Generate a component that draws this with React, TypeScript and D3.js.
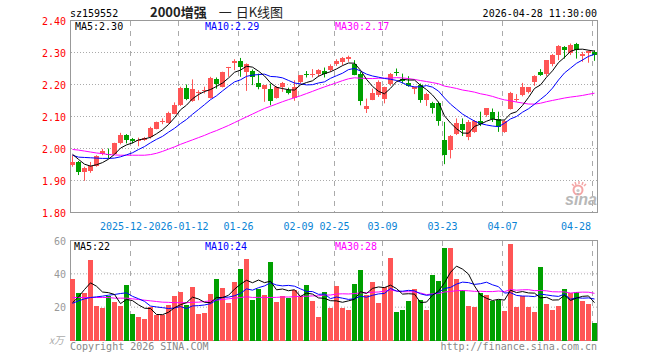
import React from "react";
import * as d3 from "d3";

const opens = [1.948,1.958,1.927,1.930,1.945,1.982,1.984,1.984,2.018,2.042,2.029,2.023,2.027,2.036,2.062,2.083,2.080,2.109,2.135,2.190,2.148,2.175,2.180,2.158,2.217,2.193,2.253,2.266,2.274,2.240,2.242,2.205,2.185,2.185,2.158,2.193,2.184,2.159,2.208,2.233,2.230,2.234,2.242,2.245,2.263,2.271,2.279,2.263,2.232,2.122,2.153,2.167,2.154,2.200,2.238,2.216,2.205,2.187,2.198,2.151,2.143,2.141,2.028,1.995,2.045,2.078,2.036,2.052,2.085,2.104,2.115,2.091,2.052,2.122,2.151,2.167,2.177,2.208,2.240,2.232,2.264,2.292,2.316,2.297,2.326,2.290,2.300,2.302];
const highs = [1.979,1.961,1.943,1.958,1.979,1.999,2.000,2.018,2.049,2.045,2.033,2.034,2.036,2.068,2.084,2.094,2.115,2.144,2.193,2.200,2.216,2.182,2.193,2.224,2.222,2.240,2.255,2.279,2.283,2.266,2.247,2.234,2.198,2.203,2.195,2.208,2.190,2.213,2.229,2.242,2.248,2.248,2.253,2.263,2.279,2.286,2.290,2.276,2.240,2.156,2.187,2.213,2.193,2.236,2.250,2.234,2.226,2.193,2.203,2.174,2.146,2.146,2.083,2.042,2.094,2.094,2.089,2.089,2.115,2.125,2.125,2.115,2.089,2.177,2.170,2.205,2.191,2.229,2.248,2.276,2.295,2.323,2.320,2.328,2.330,2.302,2.307,2.307];
const lows = [1.943,1.917,1.899,1.924,1.943,1.979,1.969,1.982,2.013,2.016,2.016,2.007,2.024,2.031,2.060,2.076,2.078,2.107,2.133,2.151,2.146,2.151,2.172,2.156,2.187,2.191,2.224,2.245,2.224,2.180,2.198,2.185,2.146,2.135,2.156,2.177,2.169,2.149,2.203,2.222,2.222,2.224,2.222,2.240,2.258,2.260,2.271,2.229,2.135,2.111,2.151,2.161,2.141,2.196,2.227,2.203,2.193,2.170,2.143,2.133,2.109,2.071,1.951,1.969,2.042,2.039,2.026,2.049,2.070,2.099,2.083,2.052,2.049,2.122,2.146,2.163,2.172,2.196,2.227,2.226,2.257,2.276,2.281,2.292,2.281,2.271,2.268,2.274];
const closes = [1.958,1.927,1.940,1.945,1.976,1.992,1.980,2.016,2.042,2.026,2.023,2.028,2.032,2.065,2.082,2.085,2.111,2.137,2.190,2.154,2.185,2.177,2.184,2.221,2.203,2.238,2.255,2.274,2.255,2.263,2.224,2.193,2.198,2.148,2.193,2.205,2.174,2.193,2.229,2.230,2.232,2.245,2.234,2.258,2.274,2.284,2.286,2.231,2.148,2.132,2.174,2.208,2.193,2.234,2.236,2.211,2.196,2.193,2.151,2.170,2.125,2.085,1.979,2.040,2.080,2.057,2.083,2.085,2.076,2.125,2.092,2.066,2.086,2.174,2.156,2.191,2.191,2.226,2.229,2.276,2.292,2.320,2.307,2.323,2.307,2.295,2.304,2.292];
const volumes = [36.8,28.6,28.6,48.1,20.7,19.5,26.6,23.2,20.7,33.2,15.9,14.1,12.9,19.9,15.3,15.3,21.3,26.6,29.0,21.1,32.0,15.9,16.7,27.8,36.8,31.6,22.7,35.0,42.7,48.7,24.2,30.8,27.2,46.9,23.0,26.6,25.6,30.2,26.6,33.2,23.6,14.1,29.0,19.5,32.6,19.5,18.3,33.8,42.1,27.2,35.0,22.5,32.0,49.3,17.1,18.3,23.6,30.8,24.2,18.3,39.1,35.6,55.8,55.8,36.8,30.2,20.7,20.1,28.4,27.2,23.6,24.2,17.7,58.2,20.1,26.6,20.1,17.1,43.9,21.9,18.3,20.7,30.8,28.4,29.0,23.6,21.9,10.5];

const ma5Head = [1.982,1.966,1.951,1.945];
const ma10Head = [1.979,1.973,1.972,1.971,1.970,1.969,1.969,1.970,1.974];
const ma30Head = [1.997,1.995,1.992,1.989,1.986,1.984,1.981,1.980,1.979,1.979,1.979,1.979,1.979,1.981,1.985,1.991,1.998,2.005,2.013,2.020,2.027,2.034,2.041,2.049,2.056,2.064,2.072,2.081,2.090];
const volMa5Head = [22.7,26.2,30.6,34.6];
const volMa10Head = [22.3,23.8,25.0,25.8,26.2,26.6,27.2,27.6,28.2];
const volMa30Head = [25.8,25.8,25.8,25.8,25.8,25.8,25.8,25.4,25.4,25.4,25.0,24.6,24.2,23.8,23.4,23.0,22.9,22.7,22.7,22.7,22.9,23.0,23.4,23.8,24.2,24.6,25.0,25.4,25.8];

const tickIndex = [10,18,28,38,44,52,62,72,87];
const tickLabels = ["2025-12-","2026-01-12","01-26","02-09","02-25","03-09","03-23","04-07","04-28"];
const priceTicks = [2.4,2.3,2.2,2.1,2.0,1.9,1.8];
const volTicks = [60,40,20];

const RED = "#ff5555";
const GREEN = "#00a000";
const MONO = "'DejaVu Sans Mono', 'Liberation Mono', monospace";

function movingAverage(values: number[], n: number, head: number[]): number[] {
  return values.map((_, i) => (i < n - 1 ? head[i] : (d3.mean(values.slice(i - n + 1, i + 1)) as number)));
}

export default function App() {
  const n = closes.length;
  const x = d3.scaleBand<number>().domain(d3.range(n)).range([70, 598]).padding(0);
  const y = d3.scaleLinear().domain([1.8, 2.4]).range([212.5, 20.5]);
  const yv = d3.scaleLinear().domain([0, 60]).range([340.5, 240.5]);

  const ma5 = movingAverage(closes, 5, ma5Head);
  const ma10 = movingAverage(closes, 10, ma10Head);
  const ma30 = movingAverage(closes, 30, ma30Head);
  const vma5 = movingAverage(volumes, 5, volMa5Head);
  const vma10 = movingAverage(volumes, 10, volMa10Head);
  const vma30 = movingAverage(volumes, 30, volMa30Head);

  const cx = (i: number) => (x(i) as number) + 2.5;
  const priceLine = (arr: number[]) =>
    d3.line<number>().x((_, i) => cx(i)).y((d) => y(d))(arr) || "";
  const volLine = (arr: number[]) =>
    d3.line<number>().x((_, i) => cx(i)).y((d) => yv(d))(arr) || "";

  const grid = "#aaaaaa";
  const frame = "#999999";

  return (
    <svg width={660} height={360} style={{ position: "absolute", left: 0, top: 0, background: "#fff" }}
      fontFamily={MONO} fontSize={10}>
      <rect x={0} y={0} width={660} height={360} fill="#fff" />

      {/* header */}
      <text x={70} y={17} fill="#000">sz159552</text>
      <text x={150} y={17} fontFamily="'Noto Sans CJK SC', sans-serif" fontSize={13} fill="#222">
        <tspan fontWeight="bold">2000增强</tspan>
        <tspan dx={12}>一</tspan>
        <tspan dx={4}>日K线图</tspan>
      </text>
      <text x={597} y={17} textAnchor="end" fill="#000">2026-04-28 11:30:00</text>

      {/* main panel grid */}
      {priceTicks.slice(1, -1).map((p) => (
        <line key={"h" + p} x1={71} x2={597} y1={y(p)} y2={y(p)} stroke={grid} strokeDasharray="1,2" />
      ))}
      {tickIndex.map((i) => (
        <line key={"v" + i} x1={(x(i) as number) + 0.5} x2={(x(i) as number) + 0.5} y1={21} y2={212}
          stroke={grid} strokeDasharray="5,5" />
      ))}
      <rect x={70.5} y={20.5} width={527} height={192} fill="none" stroke={frame} />

      {/* price labels */}
      {priceTicks.map((p) => (
        <text key={"pl" + p} x={66} y={y(p) + 4} textAnchor="end" fill="#ff0000">{p.toFixed(2)}</text>
      ))}

      {/* sina watermark */}
      <g>
        <circle cx={578} cy={190} r={4.5} fill="none" stroke="#f4a6a6" strokeWidth={2} />
        <circle cx={578} cy={190.5} r={1.6} fill="#c8c8c8" />
        <path d="M572,184 L574,186 M575,182 L576,185 M579,181 L579,184 M583,182 L582,185 M586,184 L584,186"
          stroke="#f4a6a6" strokeWidth={1.5} fill="none" />
        <text x={565} y={205} fontFamily="'Liberation Sans', Arial, sans-serif" fontSize={16}
          fontWeight="bold" fontStyle="italic" fill="#b8b8b8">sina</text>
      </g>

      {/* candles */}
      {closes.map((c, i) => {
        const o = opens[i];
        const up = c >= o;
        const col = up ? RED : GREEN;
        const top = Math.round(y(Math.max(o, c)));
        const bot = Math.round(y(Math.min(o, c)));
        return (
          <g key={"c" + i}>
            <line x1={cx(i)} x2={cx(i)} y1={y(highs[i])} y2={y(lows[i])} stroke={col} strokeWidth={1} />
            <rect x={x(i) as number} y={top} width={5} height={Math.max(1, bot - top)} fill={col} />
          </g>
        );
      })}

      {/* price MAs */}
      <path d={priceLine(ma30)} fill="none" stroke="#ff00ff" strokeWidth={1} />
      <path d={priceLine(ma10)} fill="none" stroke="#0000ff" strokeWidth={1} />
      <path d={priceLine(ma5)} fill="none" stroke="#000000" strokeWidth={1} />

      <text x={75} y={30} fill="#000">MA5:2.30</text>
      <text x={205} y={30} fill="#0000ff">MA10:2.29</text>
      <text x={335} y={30} fill="#ff00ff">MA30:2.17</text>

      {/* date axis labels */}
      {tickIndex.map((i, k) => {
        const first = k === 0;
        const last = k === tickIndex.length - 1;
        const px = (x(i) as number) + 0.5;
        return (
          <text key={"d" + i} x={first ? 100 : last ? 591 : px} y={230}
            textAnchor={first ? "start" : last ? "end" : "middle"} fill="#0a84d6">
            {tickLabels[k]}
          </text>
        );
      })}

      {/* volume panel */}
      {volTicks.slice(1).map((v) => (
        <line key={"vh" + v} x1={71} x2={597} y1={yv(v)} y2={yv(v)} stroke={grid} strokeDasharray="1,2" />
      ))}
      {tickIndex.map((i) => (
        <line key={"vv" + i} x1={(x(i) as number) + 0.5} x2={(x(i) as number) + 0.5} y1={241} y2={340}
          stroke={grid} strokeDasharray="5,5" />
      ))}
      <rect x={70.5} y={240.5} width={527} height={100} fill="none" stroke={frame} />
      {volTicks.map((v) => (
        <text key={"vl" + v} x={66} y={yv(v) + 4} textAnchor="end" fill="#999">{v}</text>
      ))}
      <text x={64} y={344} textAnchor="end" fill="#aaa" fontStyle="italic"
        fontFamily="'Noto Sans CJK SC', sans-serif" fontSize={10}>x万</text>

      {volumes.map((v, i) => {
        const up = closes[i] >= opens[i];
        const top = Math.round(yv(v));
        return (
          <rect key={"vb" + i} x={x(i) as number} y={top} width={5} height={Math.round(yv(0)) - top}
            fill={up ? RED : GREEN} />
        );
      })}

      <path d={volLine(vma30)} fill="none" stroke="#ff00ff" strokeWidth={1} />
      <path d={volLine(vma10)} fill="none" stroke="#0000ff" strokeWidth={1} />
      <path d={volLine(vma5)} fill="none" stroke="#000000" strokeWidth={1} />

      <text x={74} y={250} fill="#000">MA5:22</text>
      <text x={205} y={250} fill="#0000ff">MA10:24</text>
      <text x={335} y={250} fill="#ff00ff">MA30:28</text>

      {/* footer */}
      <text x={70} y={350} fill="#888">Copyright 2026 SINA.COM</text>
      <text x={597} y={350} textAnchor="end" fill="#888">http://finance.sina.com.cn</text>
    </svg>
  );
}
